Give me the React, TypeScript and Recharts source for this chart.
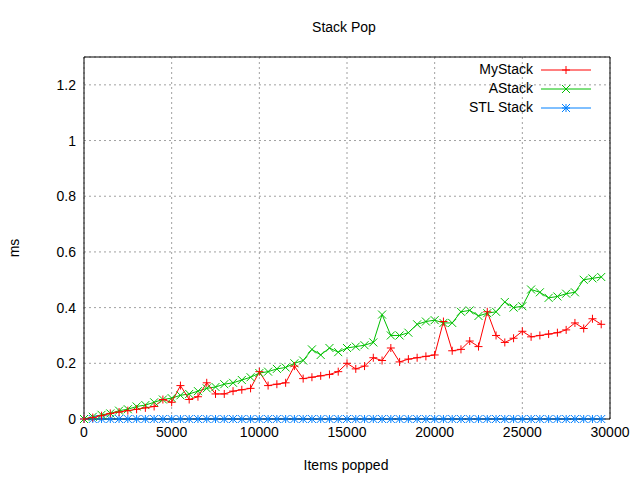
import React from "react";
import { LineChart, Line, XAxis, YAxis, CartesianGrid } from "recharts";

const items = Array.from({ length: 60 }, (_, i) => i * 500);
const myStack = [0, 0.005, 0.012, 0.02, 0.025, 0.03, 0.035, 0.04, 0.045, 0.07, 0.06, 0.12, 0.07, 0.08, 0.13, 0.09, 0.09, 0.1, 0.105, 0.11, 0.17, 0.12, 0.125, 0.13, 0.19, 0.145, 0.15, 0.155, 0.16, 0.17, 0.2, 0.18, 0.19, 0.22, 0.21, 0.255, 0.205, 0.215, 0.22, 0.225, 0.23, 0.35, 0.245, 0.25, 0.28, 0.26, 0.385, 0.3, 0.275, 0.29, 0.315, 0.295, 0.3, 0.305, 0.31, 0.32, 0.345, 0.325, 0.36, 0.34];
const aStack = [0, 0.008, 0.015, 0.02, 0.03, 0.035, 0.045, 0.05, 0.06, 0.07, 0.075, 0.085, 0.09, 0.1, 0.11, 0.115, 0.125, 0.13, 0.14, 0.15, 0.165, 0.17, 0.18, 0.185, 0.2, 0.21, 0.25, 0.23, 0.255, 0.24, 0.255, 0.26, 0.265, 0.275, 0.375, 0.3, 0.3, 0.31, 0.34, 0.35, 0.355, 0.345, 0.345, 0.385, 0.39, 0.37, 0.38, 0.385, 0.42, 0.4, 0.405, 0.465, 0.455, 0.435, 0.44, 0.45, 0.455, 0.5, 0.505, 0.51];
const stlStack = items.map(() => 0);
const xTicks = [0, 5000, 10000, 15000, 20000, 25000, 30000];
const yTicks = [0, 0.2, 0.4, 0.6, 0.8, 1, 1.2];

const data = items.map((x, i) => ({ x, my: myStack[i], a: aStack[i], stl: stlStack[i] }));

const FONT = "'Liberation Sans', Arial, sans-serif";

function marker(kind: string, color: string) {
  return (p: any) => {
    const { cx, cy, index } = p;
    const s = 4;
    let d = "";
    if (kind === "plus") d = `M${cx - s},${cy}H${cx + s}M${cx},${cy - s}V${cy + s}`;
    else if (kind === "x") d = `M${cx - s},${cy - s}L${cx + s},${cy + s}M${cx - s},${cy + s}L${cx + s},${cy - s}`;
    else d = `M${cx - s},${cy}H${cx + s}M${cx},${cy - s}V${cy + s}M${cx - s},${cy - s}L${cx + s},${cy + s}M${cx - s},${cy + s}L${cx + s},${cy - s}`;
    return <path key={index} d={d} stroke={color} strokeWidth={1} fill="none" />;
  };
}

const legend = [
  { name: "MyStack", color: "#ff0000", kind: "plus" },
  { name: "AStack", color: "#00c000", kind: "x" },
  { name: "STL Stack", color: "#0080ff", kind: "star" },
];

export default function App() {
  return (
    <div style={{ position: "absolute", left: 0, top: 0, width: 640, height: 480, background: "#fff", fontFamily: FONT }}>
      <div style={{ position: "absolute", top: 19, left: 24, width: 640, textAlign: "center", fontSize: 14 }}>Stack Pop</div>
      <div style={{ position: "absolute", top: 457, left: 346 - 320, width: 640, textAlign: "center", fontSize: 14 }}>Items popped</div>
      <div style={{ position: "absolute", left: 5, top: 240, fontSize: 14, transform: "rotate(-90deg)" }}>ms</div>
      <LineChart width={640} height={480} data={data} margin={{ top: 56, right: 29, left: 24, bottom: 36 }}>
        <CartesianGrid stroke="#a0a0a0" strokeDasharray="2 3" />
        <XAxis dataKey="x" type="number" domain={[0, 30000]} ticks={xTicks} height={25} tickLine={false}
          axisLine={{ stroke: "#000" }} tick={{ fill: "#000", fontSize: 14, fontFamily: FONT }} />
        <XAxis xAxisId="top" orientation="top" dataKey="x" type="number" domain={[0, 30000]} height={1} tick={false} tickLine={false} axisLine={{ stroke: "#000" }} />
        <YAxis domain={[0, 1.3]} ticks={yTicks} width={60} tickLine={false}
          axisLine={{ stroke: "#000" }} tick={{ fill: "#000", fontSize: 14, fontFamily: FONT }} />
        <YAxis yAxisId="right" orientation="right" domain={[0, 1.3]} width={1} tick={false} tickLine={false} axisLine={{ stroke: "#000" }} />
        <Line dataKey="stl" stroke="#0080ff" strokeWidth={1} dot={marker("star", "#0080ff")} isAnimationActive={false} />
        <Line dataKey="a" stroke="#00c000" strokeWidth={1} dot={marker("x", "#00c000")} isAnimationActive={false} />
        <Line dataKey="my" stroke="#ff0000" strokeWidth={1} dot={marker("plus", "#ff0000")} isAnimationActive={false} />
      </LineChart>
      {legend.map((l, i) => {
        const y = 70 + i * 19;
        return (
          <React.Fragment key={l.name}>
            <div style={{ position: "absolute", right: 640 - 533, top: y - 9, fontSize: 14, textAlign: "right" }}>{l.name}</div>
            <svg style={{ position: "absolute", left: 540, top: y - 6 }} width={52} height={12}>
              <line x1={1} y1={6} x2={51} y2={6} stroke={l.color} />
              {marker(l.kind, l.color)({ cx: 26, cy: 6, index: 0 })}
            </svg>
          </React.Fragment>
        );
      })}
    </div>
  );
}
